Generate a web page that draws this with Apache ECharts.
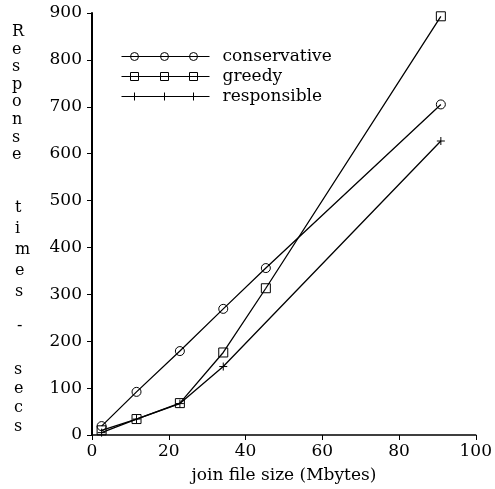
<!DOCTYPE html>
<html>
<head>
<meta charset="utf-8">
<script src="https://cdn.jsdelivr.net/npm/echarts@6/dist/echarts.min.js"></script>
<style>
  html, body { margin: 0; padding: 0; background: #fff; }
  #chart { width: 495px; height: 489px; }
</style>
</head>
<body>
<div id="chart"></div>
<script>
// file size (Mbytes) on x, response time (secs) on y
var fileSizes = [2.5, 11.6, 22.9, 34.2, 45.3, 90.9];
var conservative = [19, 92, 179, 269, 356, 705];
var greedy = [10, 34, 68, 176, 313, 893];
var responsibleSizes = [2.5, 11.6, 22.9, 34.2, 90.9];
var responsible = [5, 34, 67, 146, 627];
var xTicks = [0, 20, 40, 60, 80, 100];
var yTicks = [0, 100, 200, 300, 400, 500, 600, 700, 800, 900];

function pairs(xs, ys) {
    var out = [];
    for (var i = 0; i < xs.length; i++) out.push([xs[i], ys[i]]);
    return out;
}

var font = 'DejaVu Serif';
var hollow = { color: 'transparent', borderColor: '#000', borderWidth: 1 };
var plusPath = 'path://M4,0L4,8M0,4L8,4';

var chart = echarts.init(document.getElementById('chart'));
var option = {
    backgroundColor: '#fff',
    animation: false,
    grid: { left: 92, right: 19, top: 13, bottom: 50 },
    legend: {
        left: 116,
        top: 43,
        orient: 'vertical',
        itemWidth: 88,
        itemHeight: 8,
        itemGap: 3,
        itemStyle: hollow,
        textStyle: { fontFamily: font, fontSize: 17, color: '#000', padding: [0, 0, 0, 8] },
        data: [
            { name: 'conservative', icon: 'path://M0,4L88,4M9,4a4,4 0 1,0 8,0a4,4 0 1,0 -8,0M39,4a4,4 0 1,0 8,0a4,4 0 1,0 -8,0M68,4a4,4 0 1,0 8,0a4,4 0 1,0 -8,0' },
            { name: 'greedy', icon: 'path://M0,4L88,4M9,0h8v8h-8zM39,0h8v8h-8zM68,0h8v8h-8z' },
            { name: 'responsible', icon: 'path://M0,4L88,4M13,0L13,8M43,0L43,8M72,0L72,8' }
        ]
    },
    xAxis: {
        type: 'value',
        min: xTicks[0],
        max: xTicks[xTicks.length - 1],
        interval: 20,
        name: 'join file size (Mbytes)',
        nameLocation: 'middle',
        nameGap: 32,
        nameTextStyle: { fontFamily: font, fontSize: 17, color: '#000' },
        axisLine: { lineStyle: { color: '#000', width: 1.5 } },
        axisTick: { length: 5, lineStyle: { color: '#000' } },
        axisLabel: { fontFamily: font, fontSize: 17, color: '#000', margin: 8 },
        splitLine: { show: false }
    },
    yAxis: {
        type: 'value',
        min: yTicks[0],
        max: yTicks[yTicks.length - 1],
        interval: 100,
        axisLine: { show: true, lineStyle: { color: '#000', width: 2 } },
        axisTick: { show: true, length: 5, lineStyle: { color: '#000' } },
        axisLabel: { fontFamily: font, fontSize: 17, color: '#000', margin: 10 },
        splitLine: { show: false }
    },
    graphic: [
        { type: 'text', left: 12, top: 23, style: { text: 'R\ne\ns\np\no\nn\ns\ne', font: '16px "DejaVu Serif"', lineHeight: 17.6, fill: '#000', align: 'center' } },
        { type: 'text', left: 15, top: 197, style: { text: 't\ni\nm\ne\ns', font: '16px "DejaVu Serif"', lineHeight: 21, fill: '#000', align: 'center' } },
        { type: 'text', left: 17, top: 318, style: { text: '-', font: '16px "DejaVu Serif"', fill: '#000' } },
        { type: 'text', left: 14, top: 360, style: { text: 's\ne\nc\ns', font: '16px "DejaVu Serif"', lineHeight: 19, fill: '#000', align: 'center' } }
    ],
    series: [
        {
            name: 'conservative',
            type: 'line',
            symbol: 'circle',
            symbolSize: 9,
            itemStyle: hollow,
            lineStyle: { color: '#000', width: 1.3 },
            data: pairs(fileSizes, conservative)
        },
        {
            name: 'greedy',
            type: 'line',
            symbol: 'rect',
            symbolSize: 9,
            itemStyle: hollow,
            lineStyle: { color: '#000', width: 1.3 },
            data: pairs(fileSizes, greedy)
        },
        {
            name: 'responsible',
            type: 'line',
            symbol: plusPath,
            symbolSize: 8,
            itemStyle: hollow,
            lineStyle: { color: '#000', width: 1.3 },
            data: pairs(responsibleSizes, responsible)
        }
    ]
};
chart.setOption(option);
</script>
</body>
</html>
